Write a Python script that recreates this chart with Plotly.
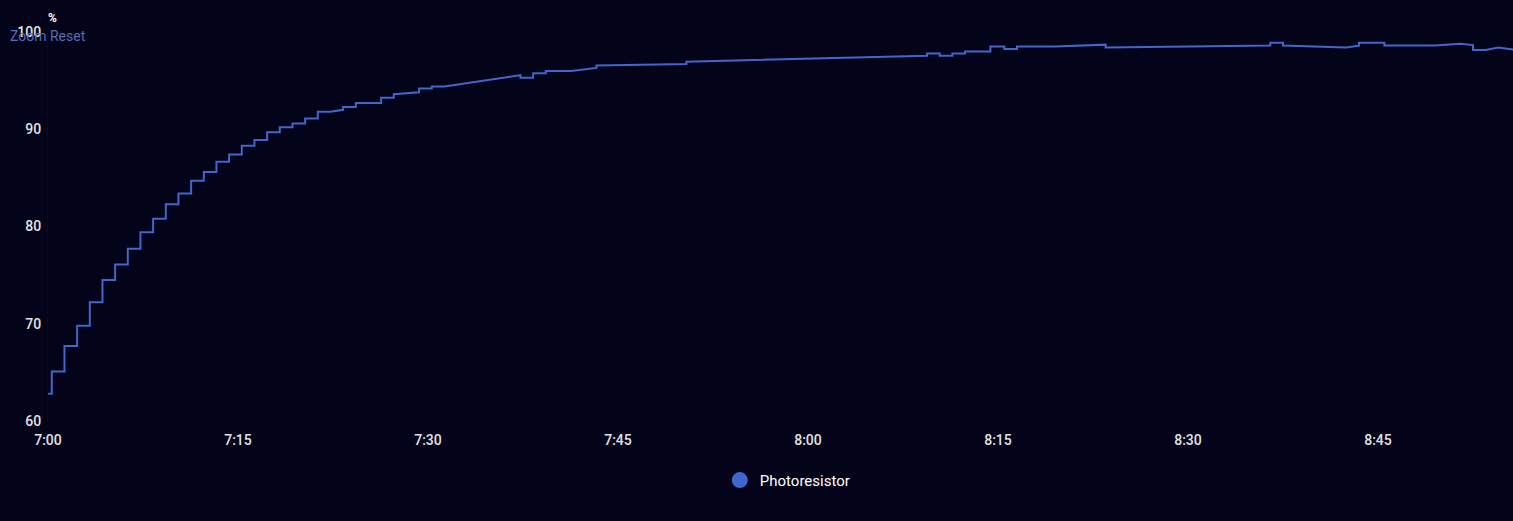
import pandas as pd
import plotly.graph_objects as go

# photoresistor readings: minutes after 07:00 and value in %
# (a step is stored as two readings at the same minute)
minutes = [
    0.0, 0.3, 0.3, 1.3, 1.3, 2.3, 2.3, 3.3, 3.3, 4.3, 4.3, 5.3, 5.3, 6.3, 6.3, 7.3,
    7.3, 8.3, 8.3, 9.3, 9.3, 10.3, 10.3, 11.3, 11.3, 12.3, 12.3, 13.3, 13.3, 14.3,
    14.3, 15.3, 15.3, 16.3, 16.3, 17.3, 17.3, 18.3, 18.3, 19.3, 19.3, 20.3, 20.3,
    21.3, 21.3, 22.3, 23.3, 23.3, 24.3, 24.3, 26.3, 26.3, 27.3, 27.3, 29.3, 29.3,
    30.3, 30.3, 31.3, 37.3, 37.3, 38.3, 38.3, 39.3, 39.3, 41.3, 43.3, 43.3, 50.4,
    50.4, 69.4, 69.4, 70.4, 70.4, 71.4, 71.4, 72.4, 72.4, 74.4, 74.4, 75.5, 75.5,
    76.5, 76.5, 79.5, 83.5, 83.5, 96.5, 96.5, 97.5, 97.5, 102.5, 103.5, 103.5,
    105.5, 105.5, 109.5, 111.5, 112.5, 112.5, 113.5, 114.5, 116.0,
]
values = [
    62.8, 62.8, 65.1, 65.1, 67.7, 67.7, 69.8, 69.8, 72.2, 72.2, 74.5, 74.5, 76.1,
    76.1, 77.7, 77.7, 79.4, 79.4, 80.8, 80.8, 82.3, 82.3, 83.4, 83.4, 84.7, 84.7,
    85.6, 85.6, 86.65, 86.65, 87.4, 87.4, 88.3, 88.3, 88.9, 88.9, 89.7, 89.7, 90.2,
    90.2, 90.6, 90.6, 91.1, 91.1, 91.8, 91.8, 92.0, 92.3, 92.3, 92.7, 92.7, 93.25,
    93.25, 93.6, 93.8, 94.2, 94.2, 94.4, 94.4, 95.55, 95.3, 95.3, 95.75, 95.75,
    96.0, 96.0, 96.3, 96.55, 96.7, 96.95, 97.55, 97.8, 97.8, 97.55, 97.55, 97.8,
    97.8, 98.0, 98.0, 98.5, 98.5, 98.25, 98.25, 98.5, 98.5, 98.7, 98.4, 98.6, 98.9,
    98.9, 98.6, 98.4, 98.6, 98.9, 98.9, 98.6, 98.6, 98.8, 98.65, 98.15, 98.15,
    98.4, 98.15,
]
y_ticks = [60, 70, 80, 90, 100]

start = pd.Timestamp("2024-01-01 07:00:00")
times = start + pd.to_timedelta(minutes, unit="min")
x_end = start + pd.Timedelta(minutes=115.66)

line_col = "#4166cc"
bg = "#03031a"

fig = go.Figure()
fig.add_trace(go.Scatter(x=times, y=values, mode="lines",
                         line=dict(color=line_col, width=2),
                         name="Photoresistor", showlegend=False))
# legend entry with the round swatch
fig.add_trace(go.Scatter(x=[None], y=[None], mode="markers",
                         marker=dict(color=line_col, size=20, symbol="circle"),
                         name="Photoresistor"))

fig.update_layout(
    width=1513, height=521,
    paper_bgcolor=bg, plot_bgcolor=bg,
    font=dict(family="Roboto", size=14, color="#e2e2e2", weight=500),
    margin=dict(l=48, r=0, t=32, b=100),
    showlegend=True,
    legend=dict(orientation="h", x=0.505, xanchor="center", y=-0.11, yanchor="top",
                font=dict(size=15, color="#ffffff", weight=400),
                itemsizing="trace"),
    xaxis=dict(range=[start, x_end], type="date", tick0=start, dtick=900000,
               tickformat="%-H:%M", showgrid=False, zeroline=False, showline=False,
               ticks="", ticklabelstandoff=9),
    yaxis=dict(range=[60, 100], tickvals=y_ticks, showgrid=False, zeroline=False,
               showline=True, linecolor="#0a0a24", linewidth=1, ticks="",
               ticklabelstandoff=3),
)

fig.add_annotation(text="<b>%</b>", xref="paper", yref="paper", x=0, y=1,
                   xshift=-2, yshift=23, showarrow=False,
                   font=dict(size=12, color="#ffffff"))
fig.add_annotation(text="Zoom Reset", xref="paper", yref="paper", x=0, y=1,
                   xanchor="right", yanchor="middle", xshift=40, yshift=-4,
                   showarrow=False, font=dict(size=14, color="#5a6cb4", weight=400))

fig.write_html("out.html", config={"displayModeBar": False},
               post_script="document.body.style.margin='0';"
                           "document.body.style.background='#03031a';")
